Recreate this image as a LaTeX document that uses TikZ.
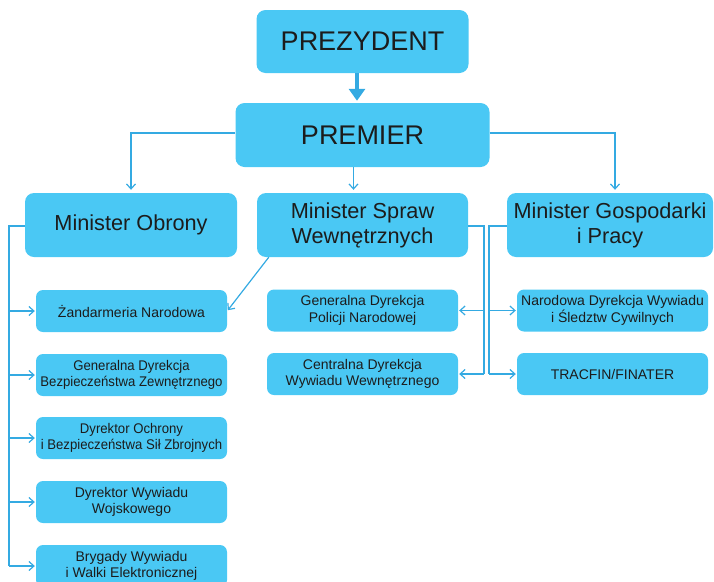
\documentclass[tikz,border=0pt]{standalone}
\usepackage{fontspec}
\usepackage{graphicx}
\setmainfont{Liberation Sans}
\usetikzlibrary{arrows.meta}
\definecolor{boxfill}{RGB}{74,200,244}
\definecolor{linecol}{RGB}{52,170,226}
\definecolor{txt}{RGB}{28,28,28}
\newcommand{\cond}[1]{\scalebox{0.94}[1]{#1}}
\begin{document}
\begin{tikzpicture}[x=1pt,y=-1pt,
  boxbase/.style={fill=boxfill, inner sep=0pt, align=center, text=txt},
  topbox/.style={boxbase, rounded corners=9pt, font=\fontsize{27}{31}\selectfont},
  minbox/.style={boxbase, rounded corners=9pt, minimum height=64pt, font=\fontsize{21.7}{25}\selectfont},
  smallbox/.style={boxbase, rounded corners=7pt, minimum width=191pt, minimum height=42pt, font=\fontsize{14}{16.5}\selectfont},
  link/.style={draw=linecol, line width=1.2pt},
  conn/.style={link, -{Straight Barb[length=5pt,width=9pt]}},
  bigarrow/.style={draw=linecol, line width=4.5pt, -{Triangle[length=12pt,width=16pt]}}
]
\useasboundingbox (0,0) rectangle (714,581);
\clip (0,0) rectangle (714,581);

% top
\node[topbox, minimum width=212pt, minimum height=63pt] (prez) at (362.5,41.5) {PREZYDENT};
\node[topbox, minimum width=254pt, minimum height=64pt] (premier) at (362.5,135) {PREMIER};

% ministers
\node[minbox, minimum width=212pt] (obrony) at (131,225) {Minister Obrony};
\node[minbox, minimum width=211pt] (spraw) at (362.5,225) {Minister Spraw\\Wewnętrznych};
\node[minbox, minimum width=206pt] (gosp) at (610,225) {Minister Gospodarki\\i Pracy};

% left column
\node[smallbox] (zand) at (131.5,311) {Żandarmeria Narodowa};
\node[smallbox] (gdbz) at (131.5,375) {\cond{Generalna Dyrekcja}\\\cond{Bezpieczeństwa Zewnętrznego}};
\node[smallbox] (doch) at (131.5,438) {\cond{Dyrektor Ochrony}\\\cond{i Bezpieczeństwa Sił Zbrojnych}};
\node[smallbox] (dwyw) at (131.5,502) {Dyrektor Wywiadu\\Wojskowego};
\node[smallbox] (bryg) at (131.5,566) {Brygady Wywiadu\\i Walki Elektronicznej};

% middle column
\node[smallbox] (gdpn) at (362.5,310.5) {Generalna Dyrekcja\\Policji Narodowej};
\node[smallbox] (cdww) at (362.5,374) {Centralna Dyrekcja\\Wywiadu Wewnętrznego};

% right column
\node[smallbox] (ndw) at (612.5,310.5) {Narodowa Dyrekcja Wywiadu\\i Śledztw Cywilnych};
\node[smallbox] (tracfin) at (612.5,374) {TRACFIN/FINATER};

% big arrow
\draw[bigarrow, shorten >=2pt] ([xshift=-5.5pt]prez.south) -- ([xshift=-5.5pt]premier.north);

% premier -> ministers
\draw[conn, shorten >=3pt] ([yshift=2pt]premier.west) -| (obrony.north);
\draw[conn, shorten >=3pt] ([xshift=-9pt]premier.south) -- ([xshift=-9pt]spraw.north);
\draw[conn, shorten >=3pt] ([yshift=2pt]premier.east) -| ([xshift=5pt]gosp.north);

% left tree
\coordinate (lt) at (9,226);
\coordinate (lb) at (9,566);
\draw[link] ([yshift=-1pt]obrony.west) -- (lt) -- (lb);
\foreach \n in {zand,gdbz,doch,dwyw,bryg}
  \draw[conn, shorten >=1pt] (lt |- \n.west) -- (\n.west);

% spraw tree
\coordinate (mt) at (484,226);
\coordinate (mb) at (484,374);
\draw[link] ([yshift=-1pt]spraw.east) -- (mt) -- (mb);
\draw[conn, shorten >=1pt] (mt |- gdpn.east) -- (gdpn.east);
\draw[conn, shorten >=1pt] (mb) -- (cdww.east);
\draw[conn, shorten >=1pt] ([xshift=12pt]spraw.south west) -- (zand.east);

% gospodarki tree
\coordinate (rt) at (489,226);
\coordinate (rb) at (489,374);
\draw[link] ([yshift=-1pt]gosp.west) -- (rt) -- (rb);
\draw[conn, shorten >=1pt] (rt |- ndw.west) -- (ndw.west);
\draw[conn, shorten >=1pt] (rb) -- (tracfin.west);
\end{tikzpicture}
\end{document}
